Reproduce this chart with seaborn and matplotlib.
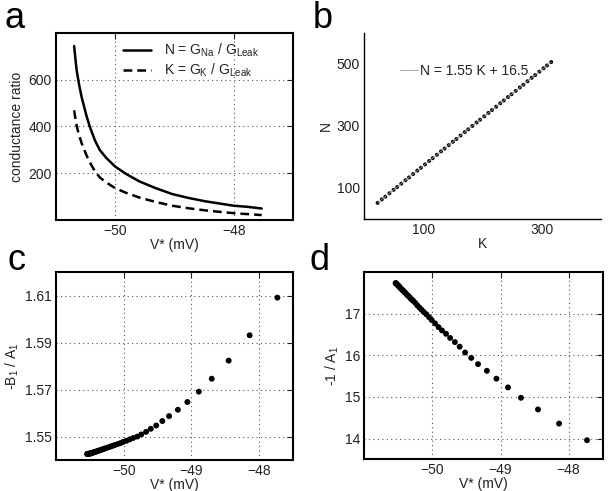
import numpy as np
import pandas as pd
import matplotlib
matplotlib.use("Agg")
import matplotlib.pyplot as plt
import seaborn as sns

# ==============================
# Data
# ==============================

# panel a: conductance ratios vs V*
v_a = [-50.694, -50.672, -50.65, -50.61, -50.567, -50.483, -50.428, -50.344, -50.261,
       -50.15, -50.0, -49.817, -49.594, -49.317, -49.04, -48.76, -48.483, -48.206,
       -48.0, -47.76, -47.528]
n_a = [744, 688, 638, 578, 525, 443, 398, 341, 299, 265, 228, 197, 165, 136, 111, 94,
       80, 69, 61, 56, 49]
k_a = [469, 433, 401, 362, 328, 275, 246, 209, 182, 160, 136, 116, 96, 77, 61, 50,
       41, 34, 29, 25, 21]

# panel b: N vs K
k_b = [23, 30, 36, 43, 50, 56, 63, 70, 76, 83, 90, 96, 103, 110, 116, 123, 130, 136,
       143, 150, 156, 163, 170, 176, 183, 190, 196, 203, 210, 216, 223, 230, 236, 243,
       249, 256, 263, 269, 276, 283, 289, 296, 303, 309, 316]
n_b = [52, 63, 72, 83, 94, 103, 114, 125, 134, 145, 156, 165, 176, 187, 196, 207, 218,
       227, 238, 249, 258, 269, 280, 289, 300, 311, 320, 331, 342, 351, 362, 373, 382,
       393, 402, 413, 424, 433, 444, 455, 464, 475, 486, 495, 506]
fit_label = "N = 1.55 K + 16.5"

# panels c, d: same V* points
v_cd = [-47.73, -48.14, -48.45, -48.70, -48.89, -49.06, -49.20, -49.33, -49.43, -49.52,
        -49.60, -49.67, -49.74, -49.80, -49.86, -49.91, -49.96, -50.01, -50.05, -50.09,
        -50.13, -50.16, -50.19, -50.22, -50.25, -50.28, -50.30, -50.32, -50.34, -50.36,
        -50.38, -50.40, -50.41, -50.43, -50.44, -50.45, -50.47, -50.48, -50.49, -50.50,
        -50.51, -50.52, -50.53, -50.535, -50.54]
b_over_a = [1.6091, 1.5931, 1.5823, 1.5746, 1.5691, 1.5647, 1.5614, 1.5587, 1.5566,
            1.5547, 1.5533, 1.5520, 1.5509, 1.5500, 1.5494, 1.5488, 1.5482, 1.5477,
            1.5472, 1.5468, 1.5464, 1.5461, 1.5458, 1.5455, 1.5452, 1.5449, 1.5447,
            1.5445, 1.5443, 1.5441, 1.5439, 1.5437, 1.5436, 1.5434, 1.5433, 1.5432,
            1.5430, 1.5429, 1.5428, 1.5428, 1.5427, 1.5427, 1.5426, 1.5426, 1.5426]
inv_a = [13.96, 14.36, 14.70, 14.98, 15.23, 15.44, 15.63, 15.79, 15.94, 16.07, 16.21,
         16.32, 16.42, 16.52, 16.60, 16.68, 16.77, 16.85, 16.92, 16.99, 17.05, 17.10,
         17.15, 17.20, 17.26, 17.31, 17.34, 17.37, 17.41, 17.44, 17.47, 17.51, 17.52,
         17.56, 17.57, 17.59, 17.62, 17.64, 17.66, 17.68, 17.69, 17.71, 17.73, 17.73,
         17.74]

# ==============================
# Style
# ==============================

sns.set_style("white")
plt.rcParams["font.family"] = ["Liberation Sans", "DejaVu Sans"]
plt.rcParams["font.size"] = 10
plt.rcParams["text.color"] = "#222222"
plt.rcParams["axes.labelcolor"] = "#222222"
plt.rcParams["xtick.color"] = "#222222"
plt.rcParams["ytick.color"] = "#222222"

fig = plt.figure(figsize=(6.10, 4.91), dpi=100)
ax_a = fig.add_axes([0.0918, 0.552, 0.3885, 0.381])
ax_b = fig.add_axes([0.5967, 0.554, 0.3885, 0.379])
ax_c = fig.add_axes([0.0918, 0.063, 0.3885, 0.383])
ax_d = fig.add_axes([0.5972, 0.0645, 0.3908, 0.381])

grid_kw = dict(color="#555555", linestyle=(0, (1, 3)), linewidth=0.8)


def boxed(ax):
    for s in ax.spines.values():
        s.set_visible(True)
        s.set_linewidth(1.5)
        s.set_color("black")
    ax.tick_params(direction="in", top=True, right=True, length=4, width=0.8,
                   labelsize=10, pad=3)
    ax.grid(True, **grid_kw)


# ==============================
# a) conductance ratios
# ==============================

df_a = pd.DataFrame({"v": v_a, "N": n_a, "K": k_a})
sns.lineplot(data=df_a, x="v", y="N", ax=ax_a, color="black", lw=1.8,
             label=r"N = G$_\mathregular{Na}$ / G$_\mathregular{Leak}$")
sns.lineplot(data=df_a, x="v", y="K", ax=ax_a, color="black", lw=1.8,
             linestyle=(0, (3.5, 2)), label=r"K = G$_\mathregular{K}$ / G$_\mathregular{Leak}$")
ax_a.set_xlim(-51, -47)
ax_a.set_ylim(0, 800)
ax_a.set_xticks([-50, -48])
ax_a.set_yticks([200, 400, 600])
ax_a.set_xlabel("V* (mV)", labelpad=0)
ax_a.set_ylabel("conductance ratio", labelpad=3)
boxed(ax_a)
ax_a.legend(loc="upper center", bbox_to_anchor=(0.57, 1.02), frameon=False,
            handlelength=2.0, handletextpad=0.9, labelspacing=0.2, fontsize=10)

# ==============================
# b) N vs K
# ==============================

df_b = pd.DataFrame({"K": k_b, "N": n_b})
slope, icpt = np.polyfit(df_b["K"], df_b["N"], 1)
kk = np.array([df_b["K"].min(), df_b["K"].max()])
ax_b.plot(kk, slope * kk + icpt, color="#999999", lw=0.6, label=fit_label)
sns.scatterplot(data=df_b, x="K", y="N", ax=ax_b, color="black", s=8,
                edgecolor="none", legend=False)
ax_b.set_xlim(0, 400)
ax_b.set_ylim(0, 600)
ax_b.set_xticks([100, 300])
ax_b.set_yticks([100, 300, 500])
ax_b.set_xlabel("K", labelpad=0)
ax_b.set_ylabel("N", labelpad=3)
for s in ["top", "right"]:
    ax_b.spines[s].set_visible(False)
for s in ["left", "bottom"]:
    ax_b.spines[s].set_linewidth(1.0)
    ax_b.spines[s].set_color("black")
ax_b.tick_params(direction="in", length=4, width=0.8, labelsize=10, pad=3)
ax_b.legend(loc="upper left", bbox_to_anchor=(0.1, 0.9), frameon=False,
            handlelength=1.3, handletextpad=0.1, fontsize=10)

# ==============================
# c) -B1/A1 vs V*
# ==============================

df_cd = pd.DataFrame({"v": v_cd, "ba": b_over_a, "ia": inv_a})
sns.scatterplot(data=df_cd, x="v", y="ba", ax=ax_c, color="black", s=18,
                edgecolor="none")
ax_c.set_xlim(-51, -47.5)
ax_c.set_ylim(1.54, 1.62)
ax_c.set_xticks([-50, -49, -48])
ax_c.set_yticks([1.55, 1.57, 1.59, 1.61])
ax_c.set_xlabel("V* (mV)", labelpad=0)
ax_c.set_ylabel(r"-B$_\mathregular{1}$ / A$_\mathregular{1}$", labelpad=3)
boxed(ax_c)

# ==============================
# d) -1/A1 vs V*
# ==============================

sns.scatterplot(data=df_cd, x="v", y="ia", ax=ax_d, color="black", s=18,
                edgecolor="none")
ax_d.set_xlim(-51, -47.5)
ax_d.set_ylim(13.5, 18)
ax_d.set_xticks([-50, -49, -48])
ax_d.set_yticks([14, 15, 16, 17])
ax_d.set_xlabel("V* (mV)", labelpad=0)
ax_d.set_ylabel(r"-1 / A$_\mathregular{1}$", labelpad=3)
boxed(ax_d)

# panel letters
for lab, x, y in [("a", 0.008, 0.943), ("b", 0.512, 0.943),
                  ("c", 0.012, 0.45), ("d", 0.508, 0.45)]:
    fig.text(x, y, lab, fontsize=26, color="black", va="baseline")

fig.savefig("out.png", dpi=100)
